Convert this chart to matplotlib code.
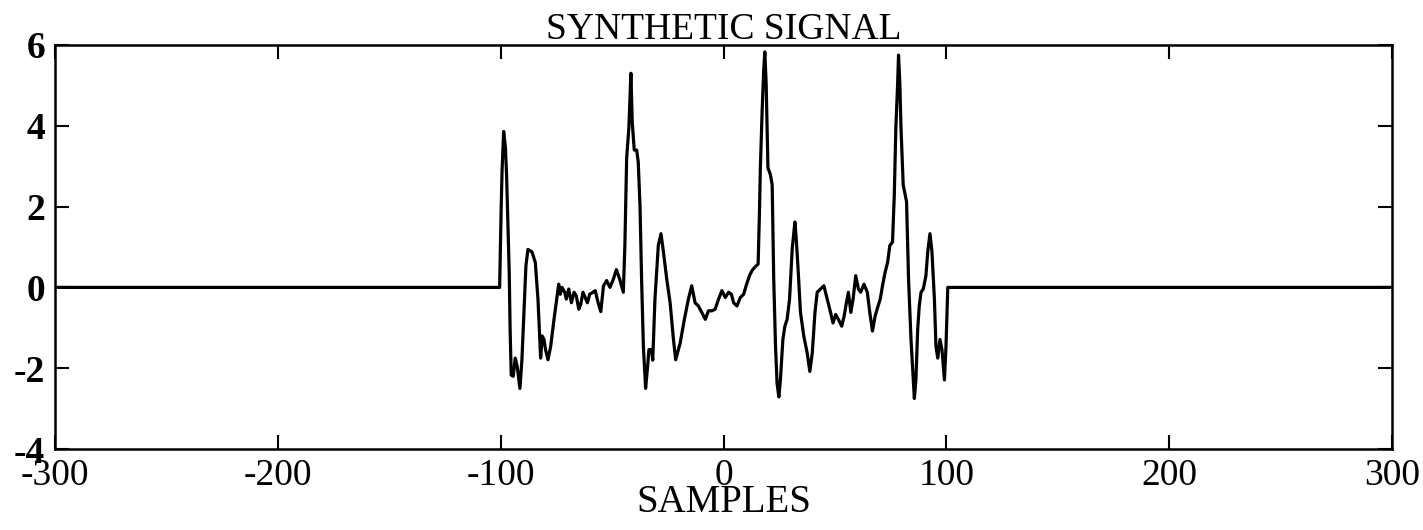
import matplotlib
matplotlib.use("Agg")
import matplotlib.pyplot as plt

# vertices of the trace (samples, amplitude)
samples = [
    -300, -100.5, -99.8, -99.4, -98.7, -97.9, -97.4, -96.8, -96.2, -95.8,
    -95.3, -94.4, -93.5, -92.6, -91.4, -90.5, -89.6, -88.7, -87.8, -86.0,
    -84.5, -83.3, -82.6, -82.1, -81.4, -80.6, -79.9, -78.8, -77.6, -76.1,
    -74.9, -74.0, -73.3, -72.5, -71.3, -70.6, -69.5, -68.3, -67.1, -66.1,
    -65.0, -64.1, -63.1, -61.1, -60.1, -58.6, -57.6, -56.3, -55.1, -53.9,
    -52.5, -51.0, -49.5, -48.1, -46.6, -45.0, -44.3, -43.5, -42.5, -41.6,
    -41.0, -40.1, -39.0, -38.3, -37.5, -36.8, -36.0, -35.0, -34.1, -33.5,
    -32.3, -31.8, -30.8, -29.3, -28.1, -27.0, -25.5, -24.0, -22.5, -21.5,
    -19.5, -17.6, -15.8, -14.3, -12.8, -11.3, -9.8, -8.2, -6.8, -5.3,
    -3.8, -2.25, -0.75, 0.75, 2.25, 3.5, 4.5, 6.0, 7.5, 9.0,
    10.1, 11.6, 12.8, 14.0, 15.5, 16.1, 16.5, 17.3, 18.0, 18.5,
    19.1, 19.9, 21.0, 21.8, 22.5, 23.3, 24.0, 24.8, 25.5, 26.6,
    27.5, 28.5, 29.6, 30.8, 32.0, 32.6, 33.5, 34.5, 36.0, 37.5,
    38.7, 39.8, 41.0, 42.0, 43.5, 45.0, 46.5, 48.0, 49.1, 50.3,
    51.5, 53.0, 54.1, 55.1, 56.0, 57.1, 58.1, 59.3, 60.5, 61.5,
    63.0, 64.5, 65.6, 66.8, 68.0, 69.1, 70.3, 71.3, 72.5, 73.6,
    74.6, 75.8, 76.6, 77.3, 78.1, 78.5, 79.1, 79.6, 80.6, 82.1,
    83.0, 84.1, 85.1, 85.6, 86.3, 87.1, 87.8, 88.6, 89.6, 90.8,
    91.6, 92.6, 93.5, 94.6, 95.3, 96.1, 97.1, 98.0, 99.1, 99.8,
    100.6, 300,
]
amplitude = [
    0, 0, 2.0, 2.9, 3.86, 3.46, 2.8, 1.6, 0.38, -1.04,
    -2.17, -2.2, -1.75, -1.96, -2.5, -1.79, -0.62, 0.54, 0.94, 0.88,
    0.62, -0.29, -1.12, -1.75, -1.2, -1.29, -1.54, -1.79, -1.46, -0.79,
    -0.29, 0.08, -0.17, 0.0, -0.12, -0.29, -0.04, -0.38, -0.12, -0.21,
    -0.54, -0.42, -0.12, -0.38, -0.17, -0.12, -0.08, -0.38, -0.6, 0.04,
    0.17, 0.0, 0.2, 0.44, 0.2, -0.12, 1.04, 3.2, 3.96, 5.3,
    4.1, 3.4, 3.4, 3.1, 2.0, 0.2, -1.46, -2.5, -1.96, -1.54,
    -1.54, -1.8, -0.29, 1.04, 1.33, 0.88, 0.2, -0.38, -1.29, -1.79,
    -1.38, -0.79, -0.29, 0.04, -0.38, -0.46, -0.62, -0.79, -0.58, -0.58,
    -0.54, -0.29, -0.08, -0.25, -0.12, -0.17, -0.38, -0.46, -0.25, -0.17,
    0.04, 0.29, 0.42, 0.5, 0.58, 1.88, 2.96, 4.38, 5.38, 5.83,
    5.04, 2.96, 2.79, 2.54, 0.2, -1.46, -2.38, -2.71, -2.29, -1.29,
    -0.96, -0.79, -0.29, 0.96, 1.62, 1.21, 0.38, -0.62, -1.21, -1.62,
    -2.08, -1.62, -0.62, -0.12, -0.04, 0.04, -0.29, -0.62, -0.88, -0.67,
    -0.79, -0.96, -0.71, -0.38, -0.12, -0.62, -0.29, 0.29, -0.04, -0.12,
    0.08, -0.12, -0.62, -1.08, -0.71, -0.5, -0.29, 0.04, 0.38, 0.62,
    1.04, 1.12, 2.29, 3.96, 5.04, 5.75, 5.04, 3.96, 2.54, 2.12,
    0.2, -1.29, -2.29, -2.75, -2.29, -1.04, -0.46, -0.12, -0.04, 0.29,
    0.88, 1.33, 0.88, -0.29, -1.46, -1.75, -1.29, -1.54, -2.29, -1.46,
    0.0, 0.0,
]

x_ticks = [-300, -200, -100, 0, 100, 200, 300]
y_ticks = [-4, -2, 0, 2, 4, 6]

plt.rcParams['font.family'] = ['Liberation Serif', 'DejaVu Serif']

fig = plt.figure(figsize=(14.23, 5.30), dpi=100)
ax = fig.add_axes([0.0387, 0.1528, 0.9396, 0.7623])

ax.plot(samples, amplitude, color='black', linewidth=2.3)

ax.set_xlim(-300, 300)
ax.set_ylim(-4, 6)
ax.set_xticks(x_ticks)
ax.set_yticks(y_ticks)
ax.set_xticklabels([str(t) for t in x_ticks], fontsize=27)
ax.set_yticklabels([str(t) for t in y_ticks], fontsize=27, fontweight='bold')
ax.tick_params(direction='in', length=10, width=1.5, top=True, right=True)
ax.tick_params(axis='x', pad=6.5)
ax.tick_params(axis='y', pad=7)
for s in ax.spines.values():
    s.set_linewidth(1.8)

ax.set_title("SYNTHETIC SIGNAL", fontsize=27, pad=4.5)
ax.set_xlabel("SAMPLES", fontsize=28, labelpad=-6)

fig.savefig("out.png", dpi=100)
